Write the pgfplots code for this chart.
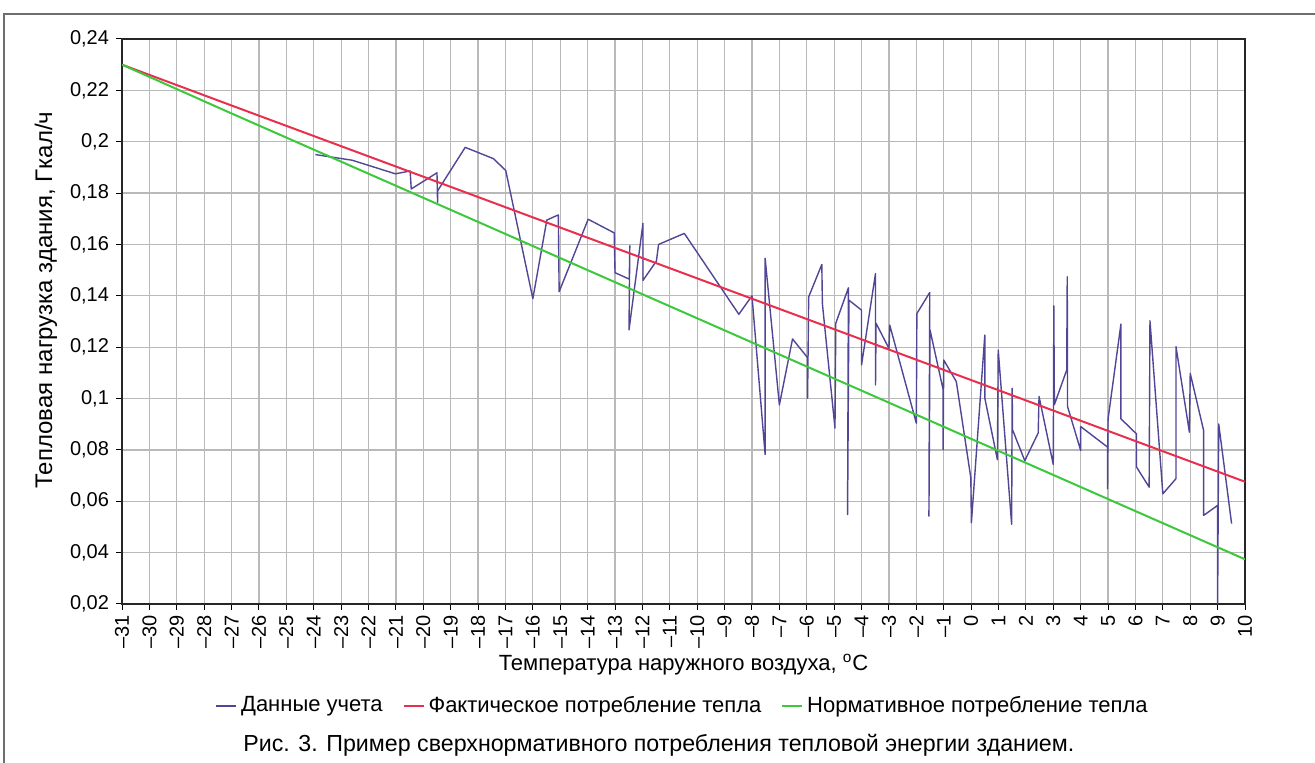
\documentclass[border=0pt]{standalone}
\usepackage{pgfplots}
\pgfplotsset{compat=1.18}
\usepackage{fontspec}
\setmainfont{Liberation Sans}
\definecolor{dataC}{RGB}{80,70,150}
\definecolor{factC}{RGB}{232,48,78}
\definecolor{normC}{RGB}{60,200,60}
\definecolor{gridC}{RGB}{185,185,185}
\definecolor{frameC}{RGB}{110,110,110}
\begin{document}
\begin{tikzpicture}
\begin{axis}[
  scale only axis,
  width=561.5pt, height=282.5pt,
  xmin=-31, xmax=10, ymin=0.02, ymax=0.24,
  xtick={-31,...,10},
  xticklabels={–31,–30,–29,–28,–27,–26,–25,–24,–23,–22,–21,–20,–19,–18,–17,–16,–15,–14,–13,–12,–11,–10,–9,–8,–7,–6,–5,–4,–3,–2,–1,0,1,2,3,4,5,6,7,8,9,10},
  ytick={0.02,0.04,...,0.241},
  yticklabel style={/pgf/number format/.cd,use comma,fixed,precision=2,assume math mode=true},
  xticklabel style={rotate=90,anchor=east,inner sep=2.5pt},
  tick label style={font=\fontsize{10}{12}\selectfont},
  tick align=outside,
  major tick length=3pt,
  xtick pos=bottom, ytick pos=left,
  tick style={black, line width=0.5pt},
  axis line style={black!85, line width=0.7pt},
  grid=major,
  major grid style={gridC, line width=0.6pt},
  xlabel={Температура наружного воздуха, \textsuperscript{o}C},
  ylabel={Тепловая нагрузка здания, Гкал/ч},
  xlabel style={font=\fontsize{11}{13}\selectfont, at={(axis description cs:0.5,-0.108)},anchor=center},
  ylabel style={font=\fontsize{12}{14}\selectfont, at={(axis description cs:-0.0677,0.538)},anchor=center},
  legend style={draw=none, fill=none, at={(0.5,-0.18)}, anchor=center,
    font=\fontsize{11}{13}\selectfont, legend columns=3,
    /tikz/every even column/.append style={column sep=8pt}},
  legend image code/.code={\draw[#1, line width=0.9pt] (0pt,0pt) -- (10pt,0pt);},
  clip=true,
]
\addplot[dataC, line width=0.7pt, line join=round] coordinates {
(-23.94,0.1950) (-22.97,0.1934) (-22.60,0.1928) (-21.02,0.1875) (-20.48,0.1886)
(-20.44,0.1816) (-19.50,0.1879) (-19.48,0.1764) (-19.47,0.1810) (-18.47,0.1978)
(-17.44,0.1934) (-16.99,0.1888) (-16.00,0.1389) (-15.49,0.1695) (-15.07,0.1715)
(-15.04,0.1416) (-13.98,0.1698) (-13.03,0.1645) (-13.00,0.1490) (-12.48,0.1465)
(-12.46,0.1595) (-12.49,0.1267) (-11.98,0.1682) (-11.98,0.1460) (-11.49,0.1535)
(-11.41,0.1600) (-10.47,0.1643) (-8.48,0.1328) (-8.00,0.1400) (-7.52,0.0782)
(-7.52,0.1546) (-7.00,0.0975) (-6.52,0.1232) (-5.97,0.1159) (-5.97,0.1001)
(-5.93,0.1396) (-5.45,0.1522) (-5.43,0.1370) (-4.97,0.0885) (-4.94,0.1293)
(-4.48,0.1431) (-4.51,0.0548) (-4.46,0.1383) (-4.00,0.1344) (-4.00,0.1131)
(-3.49,0.1487) (-3.49,0.1053) (-3.47,0.1293) (-3.00,0.1195) (-2.97,0.1286)
(-2.00,0.0904) (-1.98,0.1331) (-1.51,0.1413) (-1.54,0.0542) (-1.50,0.1267)
(-1.02,0.1034) (-1.02,0.0801) (-1.00,0.1150) (-0.54,0.1066) (-0.01,0.0691)
(0.01,0.0516) (0.50,0.1247) (0.50,0.1002) (0.96,0.0762) (0.99,0.1189)
(1.48,0.0510) (1.50,0.1040) (1.51,0.0879) (1.96,0.0758) (2.45,0.0866)
(2.48,0.1008) (3.00,0.0743) (3.02,0.1361) (3.04,0.0976) (3.49,0.1111)
(3.51,0.1474) (3.52,0.0969) (4.00,0.0798) (4.00,0.0891) (4.98,0.0811)
(4.98,0.0649) (5.00,0.0920) (5.47,0.1290) (5.47,0.0921) (6.04,0.0862)
(6.04,0.0733) (6.50,0.0655) (6.53,0.1303) (7.00,0.0629) (7.48,0.0688)
(7.48,0.1202) (7.97,0.0869) (8.00,0.1098) (8.49,0.0875) (8.49,0.0545)
(9.00,0.0584) (9.00,0.0200) (9.04,0.0901) (9.51,0.0513)
};
\addlegendentry{Данные учета}
\addplot[factC, line width=1pt] coordinates {(-31,0.2300) (-27,0.2141) (10,0.0676)};
\addlegendentry{Фактическое потребление тепла}
\addplot[normC, line width=1pt] coordinates {(-31,0.2300) (-27,0.2110) (10,0.0374)};
\addlegendentry{Нормативное потребление тепла}
\end{axis}
\node[font=\fontsize{11.6}{14}\selectfont, anchor=west, inner sep=0pt] at (60.5pt,-70.5pt) {Рис. 3. Пример сверхнормативного потребления тепловой энергии зданием.};
\draw[frameC, line width=0.8pt] (-59pt,-79.5pt) -- (-59pt,295pt) -- (596.5pt,295pt);
\pgfresetboundingbox
\path (-61pt,-79.5pt) rectangle (596.5pt,302pt);
\end{tikzpicture}
\end{document}
